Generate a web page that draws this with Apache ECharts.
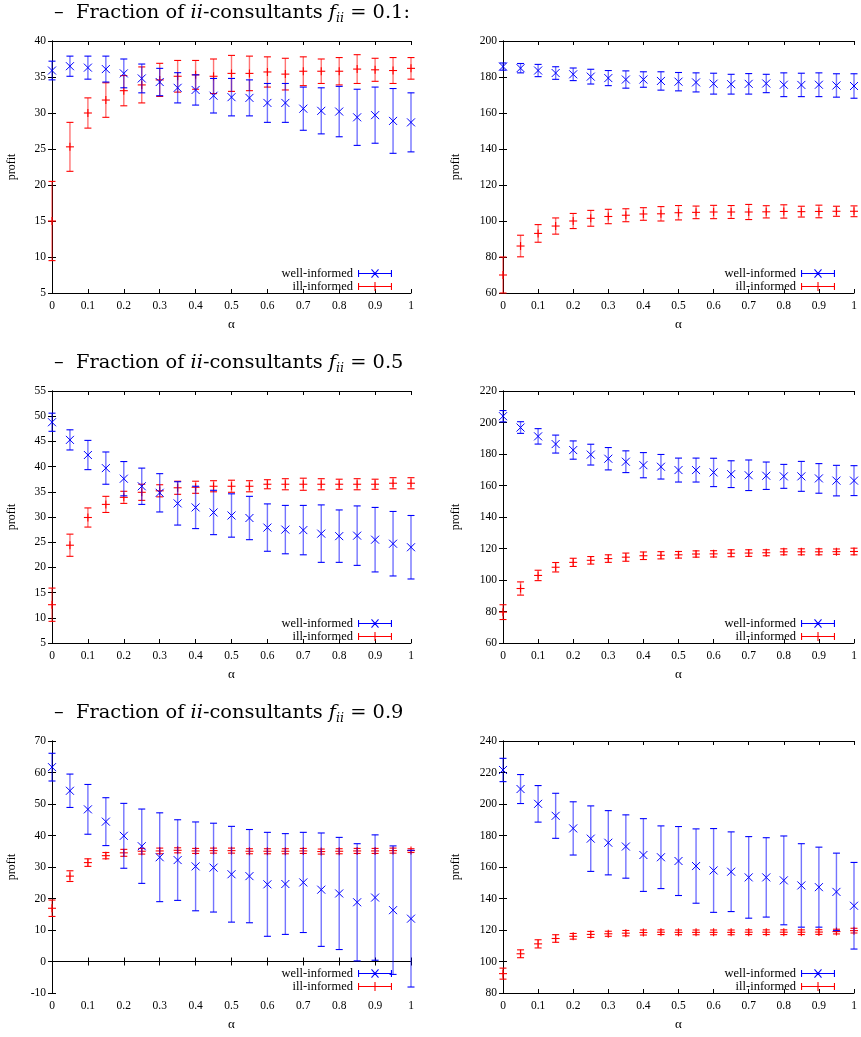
<!DOCTYPE html>
<html>
<head>
<meta charset="utf-8">
<script src="https://cdn.jsdelivr.net/npm/echarts@6/dist/echarts.min.js"></script>
<style>
  html, body { margin: 0; padding: 0; background: #fff; }
  #main { width: 861px; height: 1037px; }
</style>
</head>
<body>
<div id="main"></div>
<script>
// alpha values on the x axis
var alpha = [0, 0.05, 0.1, 0.15, 0.2, 0.25, 0.3, 0.35, 0.4, 0.45, 0.5, 0.55, 0.6, 0.65, 0.7, 0.75, 0.8, 0.85, 0.9, 0.95, 1];
var fractions = ['0.1:', '0.5', '0.9'];

// f_ii = 0.1, left panel
var wellA01 = [35.9, 36.5, 36.3, 36.1, 35.5, 34.8, 34.3, 33.5, 33.2, 32.4, 32.2, 32.1, 31.4, 31.4, 30.6, 30.3, 30.2, 29.4, 29.7, 28.9, 28.7];
var wellErrA01 = [1.3, 1.4, 1.6, 1.8, 2.0, 2.0, 1.9, 2.1, 2.1, 2.4, 2.6, 2.5, 2.7, 2.7, 3.0, 3.2, 3.5, 3.9, 3.9, 4.5, 4.1];
var illA01 = [15.0, 25.3, 30.0, 31.8, 33.1, 33.9, 34.6, 35.1, 35.3, 35.1, 35.5, 35.5, 35.7, 35.4, 35.8, 35.8, 35.8, 36.1, 36.0, 35.9, 36.2];
var illErrA01 = [5.5, 3.4, 2.1, 2.4, 2.1, 2.5, 2.3, 2.2, 2.0, 2.4, 2.5, 2.4, 2.1, 2.2, 2.0, 1.7, 1.9, 2.0, 1.6, 1.8, 1.5];
// f_ii = 0.1, right panel
var wellB01 = [185.8, 184.9, 183.6, 182.2, 181.5, 180.2, 179.4, 178.6, 178.6, 177.8, 177.4, 177.0, 176.3, 176.0, 176.2, 176.4, 175.7, 175.6, 175.7, 175.3, 175.0];
var wellErrB01 = [2.0, 2.6, 3.4, 3.5, 3.5, 4.1, 4.2, 4.8, 4.3, 5.1, 5.1, 5.3, 5.8, 5.5, 5.7, 5.1, 6.6, 6.5, 6.6, 6.5, 6.8];
var illB01 = [70.0, 86.1, 93.1, 97.2, 100.0, 101.5, 102.5, 103.2, 103.9, 104.0, 104.6, 104.8, 105.0, 105.0, 105.0, 105.1, 105.3, 105.2, 105.3, 105.4, 105.4];
var illErrB01 = [10.0, 6.0, 4.9, 4.5, 4.2, 4.4, 4.0, 3.6, 3.5, 4.0, 4.0, 3.5, 3.7, 3.6, 4.2, 3.4, 3.7, 3.0, 3.5, 2.8, 3.0];

// f_ii = 0.5
var wellA05 = [48.8, 45.3, 42.3, 39.7, 37.6, 36.1, 34.8, 32.7, 31.9, 30.9, 30.3, 29.8, 27.9, 27.5, 27.4, 26.7, 26.2, 26.3, 25.5, 24.7, 24.0];
var wellErrA05 = [1.8, 2.0, 2.9, 3.2, 3.4, 3.6, 3.8, 4.3, 4.2, 4.4, 4.3, 4.3, 4.7, 4.8, 4.9, 5.7, 5.2, 5.9, 6.4, 6.4, 6.3];
var illA05 = [12.6, 24.4, 29.9, 32.5, 33.9, 34.9, 35.2, 35.8, 35.9, 36.1, 36.1, 36.1, 36.5, 36.5, 36.5, 36.5, 36.5, 36.5, 36.5, 36.7, 36.7];
var illErrA05 = [3.3, 2.2, 1.9, 1.6, 1.2, 1.6, 1.2, 1.3, 1.2, 1.1, 1.2, 1.1, 0.9, 1.1, 1.2, 1.1, 1.0, 1.1, 1.0, 1.1, 1.1];
var wellB05 = [204.0, 196.8, 191.2, 186.3, 182.5, 179.6, 177.0, 175.1, 172.9, 171.9, 169.8, 169.8, 168.3, 167.2, 166.5, 166.2, 165.8, 165.8, 164.5, 163.1, 163.1];
var wellErrB05 = [3.6, 3.7, 4.9, 5.7, 5.8, 6.6, 7.1, 6.9, 8.0, 7.8, 7.6, 7.6, 9.0, 8.5, 9.7, 8.7, 7.6, 9.5, 9.4, 9.7, 9.5];
var illB05 = [79.6, 94.6, 102.9, 108.1, 111.2, 112.5, 113.6, 114.5, 115.4, 115.7, 116.0, 116.5, 116.6, 117.0, 117.1, 117.3, 117.9, 117.9, 117.9, 118.0, 118.1];
var illErrB05 = [4.7, 4.2, 3.3, 3.0, 2.6, 2.4, 2.4, 2.6, 2.4, 2.3, 2.1, 2.0, 2.0, 2.2, 2.1, 1.9, 1.9, 1.9, 1.9, 1.7, 2.1];

// f_ii = 0.9
var wellA09 = [61.7, 54.2, 48.3, 44.4, 39.9, 36.6, 33.1, 32.2, 30.2, 29.8, 27.7, 27.1, 24.5, 24.6, 25.1, 22.8, 21.6, 18.8, 20.3, 16.3, 13.6];
var wellErrA09 = [4.4, 5.3, 7.9, 7.6, 10.3, 11.8, 14.1, 12.8, 14.1, 14.1, 15.2, 14.8, 16.5, 16.0, 15.9, 18.0, 17.8, 18.6, 19.9, 20.4, 21.7];
var illA09 = [16.9, 27.1, 31.4, 33.6, 34.5, 35.0, 35.1, 35.3, 35.1, 35.2, 35.2, 35.0, 35.0, 35.0, 35.1, 34.9, 35.0, 35.1, 35.1, 35.2, 35.2];
var illErrA09 = [2.6, 1.7, 1.2, 1.0, 1.1, 0.9, 0.9, 0.8, 0.8, 0.8, 0.8, 0.8, 0.8, 0.8, 0.8, 0.8, 0.8, 0.8, 0.8, 0.8, 0.6];
var wellB09 = [221.6, 209.5, 200.1, 192.5, 184.5, 178.0, 175.4, 173.0, 167.6, 166.2, 163.8, 160.6, 157.8, 157.0, 153.4, 153.4, 151.5, 148.3, 147.2, 144.2, 135.4];
var wellErrB09 = [7.4, 9.2, 11.6, 14.3, 16.9, 20.8, 20.4, 20.1, 23.1, 19.9, 21.9, 23.6, 26.6, 25.3, 25.9, 25.2, 28.2, 26.5, 25.4, 24.6, 27.5];
var illB09 = [92.3, 104.9, 111.2, 114.6, 116.0, 117.2, 117.6, 118.0, 118.4, 118.6, 118.5, 118.5, 118.5, 118.5, 118.6, 118.6, 118.6, 118.6, 118.7, 119.0, 119.6];
var illErrB09 = [3.5, 2.5, 2.6, 2.4, 1.8, 1.9, 1.6, 1.7, 1.6, 1.5, 1.5, 1.5, 1.5, 1.5, 1.5, 1.5, 1.5, 1.5, 1.5, 1.5, 1.5];

var SERIF = 'Liberation Serif';
var TITLE_FONT = 'DejaVu Serif';
var BLUE = '#0000ff', RED = '#ff0000';

var panels = [
  { row: 0, col: 0, yMin: 5, yMax: 40, yStep: 5, well: wellA01, wellErr: wellErrA01, ill: illA01, illErr: illErrA01 },
  { row: 0, col: 1, yMin: 60, yMax: 200, yStep: 20, well: wellB01, wellErr: wellErrB01, ill: illB01, illErr: illErrB01 },
  { row: 1, col: 0, yMin: 5, yMax: 55, yStep: 5, well: wellA05, wellErr: wellErrA05, ill: illA05, illErr: illErrA05 },
  { row: 1, col: 1, yMin: 60, yMax: 220, yStep: 20, well: wellB05, wellErr: wellErrB05, ill: illB05, illErr: illErrB05 },
  { row: 2, col: 0, yMin: -10, yMax: 70, yStep: 10, well: wellA09, wellErr: wellErrA09, ill: illA09, illErr: illErrA09 },
  { row: 2, col: 1, yMin: 80, yMax: 240, yStep: 20, well: wellB09, wellErr: wellErrB09, ill: illB09, illErr: illErrB09 }
];

var rowTop = [41, 391, 741];
var titleTop = [-4, 346, 696];

// legend icons: line sample with caps and the point marker, drawn in a 34x10 box
var capPath = 'M0 4.45H34V5.55H0ZM0 1.5H1.1V8.5H0ZM32.9 1.5H34V8.5H32.9Z';
var wellIcon = 'path://' + capPath + 'M13.1 1.3L13.9 0.5L20.9 8.7L20.1 9.5ZM20.1 0.5L20.9 1.3L13.9 9.5L13.1 8.7Z';
var illIcon = 'path://' + capPath + 'M16.45 0.5H17.55V9.5H16.45Z';

function errorBars(marker) {
  return function (params, api) {
    var x = api.value(0), y = api.value(1), e = api.value(2);
    var c = api.coord([x, y]);
    var t = api.coord([x, y + e]);
    var b = api.coord([x, y - e]);
    var color = api.visual('color');
    var cap = 3.5, m = 4;
    var kids = [
      { type: 'line', shape: { x1: c[0], y1: t[1], x2: c[0], y2: b[1] }, style: { stroke: color, lineWidth: 1.4, opacity: 0.55 } },
      { type: 'line', shape: { x1: c[0] - cap, y1: t[1], x2: c[0] + cap, y2: t[1] }, style: { stroke: color, lineWidth: 1.1 } },
      { type: 'line', shape: { x1: c[0] - cap, y1: b[1], x2: c[0] + cap, y2: b[1] }, style: { stroke: color, lineWidth: 1.1 } }
    ];
    if (marker === 'x') {
      kids.push({ type: 'line', shape: { x1: c[0] - m, y1: c[1] - m, x2: c[0] + m, y2: c[1] + m }, style: { stroke: color, lineWidth: 1 } });
      kids.push({ type: 'line', shape: { x1: c[0] - m, y1: c[1] + m, x2: c[0] + m, y2: c[1] - m }, style: { stroke: color, lineWidth: 1 } });
    } else {
      kids.push({ type: 'line', shape: { x1: c[0] - m, y1: c[1], x2: c[0] + m, y2: c[1] }, style: { stroke: color, lineWidth: 1.1 } });
      kids.push({ type: 'line', shape: { x1: c[0], y1: c[1] - m, x2: c[0], y2: c[1] + m }, style: { stroke: color, lineWidth: 1.1 } });
    }
    return { type: 'group', children: kids };
  };
}

function triples(mean, err) {
  return alpha.map(function (a, i) { return [a, mean[i], err[i]]; });
}

var labelStyle = { fontFamily: SERIF, fontSize: 11.5, color: '#000' };
var grids = [], xAxes = [], yAxes = [], series = [], legends = [], titles = [];

panels.forEach(function (p, k) {
  var left = p.col === 0 ? 52 : 503;
  var width = p.col === 0 ? 359 : 351;
  grids.push({ left: left, top: rowTop[p.row], width: width, height: 252 });

  var tick = { show: true, inside: true, length: 4, lineStyle: { color: '#000', width: 1 } };
  var line = { show: true, lineStyle: { color: '#000', width: 1 } };
  xAxes.push({
    gridIndex: k, type: 'value', min: 0, max: 1, interval: 0.1,
    axisLine: line, axisTick: tick, splitLine: { show: false },
    axisLabel: Object.assign({ margin: 7 }, labelStyle),
    name: 'α', nameLocation: 'middle', nameGap: 25,
    nameTextStyle: { fontFamily: SERIF, fontSize: 13, color: '#000' }
  });
  xAxes.push({
    gridIndex: k, type: 'value', position: 'top', min: 0, max: 1, interval: 0.1,
    axisLine: line, axisTick: tick, splitLine: { show: false }, axisLabel: { show: false }
  });
  yAxes.push({
    gridIndex: k, type: 'value', min: p.yMin, max: p.yMax, interval: p.yStep,
    axisLine: line, axisTick: tick, splitLine: { show: false },
    axisLabel: Object.assign({ margin: 6 }, labelStyle),
    name: 'profit', nameLocation: 'middle', nameRotate: 90, nameGap: p.col === 0 ? 34 : 41,
    nameTextStyle: { fontFamily: SERIF, fontSize: 12, color: '#000' }
  });
  yAxes.push({
    gridIndex: k, type: 'value', position: 'right', min: p.yMin, max: p.yMax, interval: p.yStep,
    axisLine: line, axisTick: tick, splitLine: { show: false }, axisLabel: { show: false }
  });

  series.push({
    name: 'well-informed', type: 'custom', xAxisIndex: 2 * k, yAxisIndex: 2 * k,
    itemStyle: { color: BLUE }, encode: { x: 0, y: 1 },
    renderItem: errorBars('x'), data: triples(p.well, p.wellErr), z: 3
  });
  series.push({
    name: 'ill-informed', type: 'custom', xAxisIndex: 2 * k, yAxisIndex: 2 * k,
    itemStyle: { color: RED }, encode: { x: 0, y: 1 },
    renderItem: errorBars('+'), data: triples(p.ill, p.illErr), z: 2
  });

  legends.push({
    orient: 'vertical', align: 'right',
    right: p.col === 0 ? 464 : 21, top: rowTop[p.row] + 221,
    itemWidth: 34, itemHeight: 10, itemGap: 0, selectedMode: false,
    textStyle: { fontFamily: SERIF, fontSize: 12.5, color: '#000', lineHeight: 12 },
    itemStyle: { borderWidth: 0 },
    data: [{ name: 'well-informed', icon: wellIcon }, { name: 'ill-informed', icon: illIcon }]
  });

  if (p.col === 0) {
    var base = { fontFamily: TITLE_FONT, fontSize: 19.4, fontWeight: 'normal', color: '#000', lineHeight: 24 };
    titles.push({
      left: 49, top: titleTop[p.row],
      text: '{r|–  Fraction of }{i|ii}{r|-consultants }{i|f}{s|ii}{r| = ' + fractions[p.row] + '}',
      textStyle: {
        fontWeight: 'normal',
        rich: {
          r: base,
          i: Object.assign({}, base, { fontStyle: 'italic' }),
          s: { fontFamily: TITLE_FONT, fontSize: 12.5, fontStyle: 'italic', fontWeight: 'normal', color: '#000', lineHeight: 14, verticalAlign: 'bottom' }
        }
      }
    });
  }
});

var chart = echarts.init(document.getElementById('main'), null, { renderer: 'canvas' });
chart.setOption({
  backgroundColor: '#fff',
  animation: false,
  title: titles,
  legend: legends,
  grid: grids,
  xAxis: xAxes,
  yAxis: yAxes,
  series: series
});
</script>
</body>
</html>
